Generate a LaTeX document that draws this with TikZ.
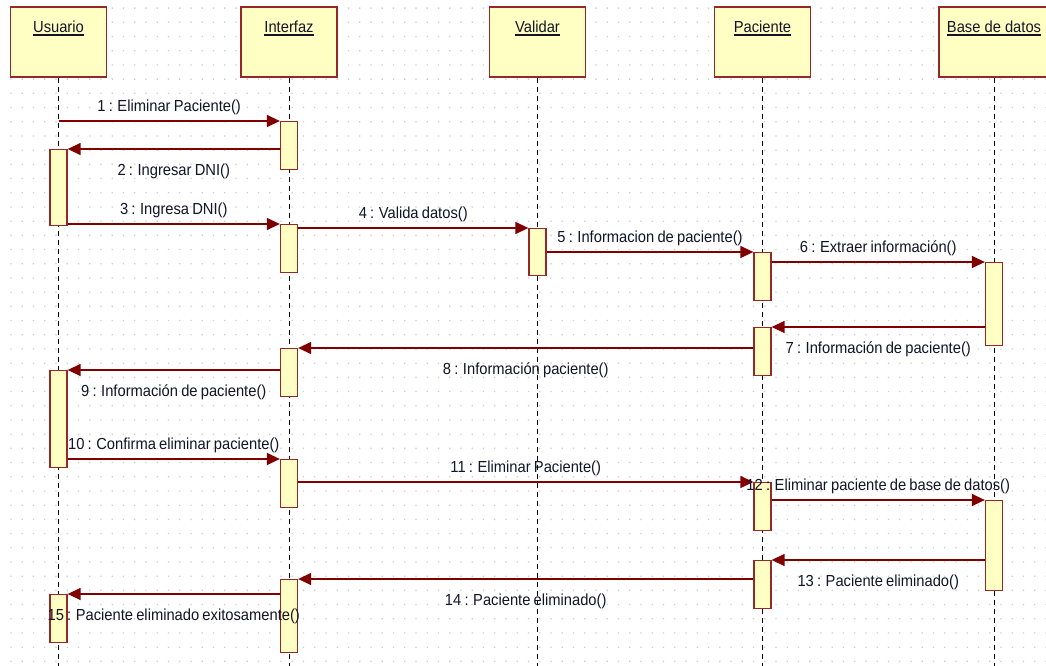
\documentclass[tikz,border=0pt]{standalone}
\usepackage{fontspec}
\setmainfont{Liberation Sans}[FakeStretch=0.92]
\usepackage{tikz}
\usepackage{xcolor}
\usetikzlibrary{positioning,arrows.meta}

\definecolor{umlred}{RGB}{128,0,0}
\definecolor{umlbord}{RGB}{150,40,40}
\definecolor{umlfill}{RGB}{255,255,196}
\definecolor{txtcol}{RGB}{20,20,40}
\definecolor{dotgray}{RGB}{205,205,205}

% underlined object name
\newcommand{\objname}[1]{\setbox0\hbox{#1}\rlap{\rule[-3.5pt]{\wd0}{1.6pt}}\box0}
\newcommand{\msgfont}{\fontsize{16pt}{19pt}\selectfont\spaceskip=0.2em\relax}

\begin{document}
\begin{tikzpicture}[
  x=1pt, y=-1pt,
  obj/.style={rectangle, draw=umlbord, fill=umlfill, line width=1.3pt, minimum width=96pt, minimum height=70pt, inner sep=0pt},
  objt/.style={anchor=base, font=\fontsize{16pt}{19pt}\selectfont, text=txtcol, inner sep=0pt},
  act/.style={rectangle, draw=umlbord, fill=umlfill, line width=1.3pt, minimum width=17pt, inner sep=0pt, anchor=north},
  life/.style={black, line width=1pt, dash pattern=on 5pt off 4pt},
  msg/.style={-{Triangle[length=13pt, width=12pt]}, umlred, line width=1.4pt},
  lbl/.style={font=\msgfont, text=txtcol, inner sep=0pt, anchor=base},
  up/.style={lbl, yshift=9.5pt},
  down/.style={lbl, yshift=-26pt}
]
\useasboundingbox (0,0) rectangle (1046,666);
\fill[white] (0,0) rectangle (1046,666);

% dot grid
\fill[dotgray] \foreach \i in {0,...,92} {\foreach \j in {0,...,46} {(10.4+11.25*\i, 7.5+14.2*\j) rectangle ++(1.3,1.3)}};

\coordinate (bottom) at (0,666);

% objects
\node[obj] (usr) at (58.5,42) {};
\node[obj] (ifz) at (289,42) {};
\node[obj] (val) at (537.5,42) {};
\node[obj] (pac) at (762.5,42) {};
\node[obj, minimum width=110pt] (bd) at (994,42) {};
\node[objt] (usr-t) at ([yshift=-26pt]usr.north) {\objname{Usuario}};
\node[objt] (ifz-t) at ([yshift=-26pt]ifz.north) {\objname{Interfaz}};
\node[objt] (val-t) at ([yshift=-26pt]val.north) {\objname{Validar}};
\node[objt] (pac-t) at ([yshift=-26pt]pac.north) {\objname{Paciente}};
\node[objt] (bd-t) at ([yshift=-26pt]bd.north) {\objname{Base de datos}};

% lifelines
\foreach \o in {usr,ifz,val,pac,bd}
  \draw[life] (\o.south) -- (\o.south |- bottom);

% activations
\node[act, minimum height=76pt] (u1) at (58.5,149) {};
\node[act, minimum height=97pt] (u2) at (58.5,370) {};
\node[act, minimum height=48pt] (u3) at (58.5,594) {};
\node[act, minimum height=48pt] (i1) at (289,121) {};
\node[act, minimum height=48pt] (i2) at (289,224) {};
\node[act, minimum height=48pt] (i3) at (289,348) {};
\node[act, minimum height=48pt] (i4) at (289,459) {};
\node[act, minimum height=73pt] (i5) at (289,579) {};
\node[act, minimum height=47pt] (v1) at (537.5,228) {};
\node[act, minimum height=48pt] (p1) at (762.5,252) {};
\node[act, minimum height=48pt] (p2) at (762.5,327) {};
\node[act, minimum height=48pt] (p3) at (762.5,482) {};
\node[act, minimum height=48pt] (p4) at (762.5,560) {};
\node[act, minimum height=83pt] (b1) at (994,262) {};
\node[act, minimum height=90pt] (b2) at (994,500) {};

% messages
\draw[msg] (usr |- i1.north) -- node[up] {1 : Eliminar Paciente()} (i1.north west);
\draw[msg] (i1.west |- u1.north) -- node[down] {2 : Ingresar DNI()} (u1.north east);
\draw[msg] (u1.east |- i2.north) -- node[up] {3 : Ingresa DNI()} (i2.north west);
\draw[msg] (i2.east |- v1.north) -- node[up] {4 : Valida datos()} (v1.north west);
\draw[msg] (v1.east |- p1.north) -- node[up] {5 : Informacion de paciente()} (p1.north west);
\draw[msg] (p1.east |- b1.north) -- node[up] {6 : Extraer información()} (b1.north west);
\draw[msg] (b1.west |- p2.north) -- node[down] {7 : Información de paciente()} (p2.north east);
\draw[msg] (p2.west |- i3.north) -- node[down] {8 : Información paciente()} (i3.north east);
\draw[msg] (i3.west |- u2.north) -- node[down] {9 : Información de paciente()} (u2.north east);
\draw[msg] (u2.east |- i4.north) -- node[up] {10 : Confirma eliminar paciente()} (i4.north west);
\draw[msg] (i4.east |- p3.north) -- node[up] {11 : Eliminar Paciente()} (p3.north west);
\draw[msg] (p3.east |- b2.north) -- node[up] {12 : Eliminar paciente de base de datos()} (b2.north west);
\draw[msg] (b2.west |- p4.north) -- node[down] {13 : Paciente eliminado()} (p4.north east);
\draw[msg] (p4.west |- i5.north) -- node[down] {14 : Paciente eliminado()} (i5.north east);
\draw[msg] (i5.west |- u3.north) -- node[down] {15 : Paciente eliminado exitosamente()} (u3.north east);
\end{tikzpicture}
\end{document}
